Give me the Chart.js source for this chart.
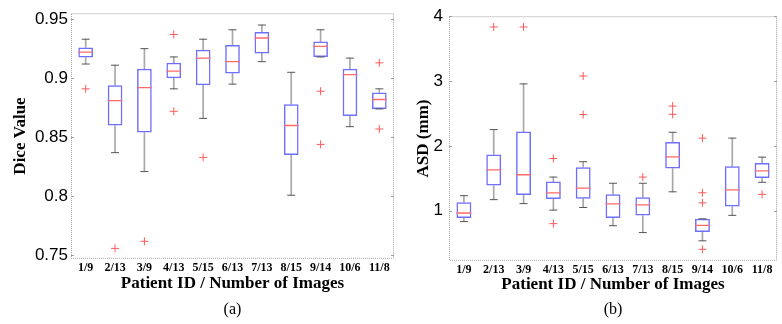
<!DOCTYPE html>
<html>
<head>
<meta charset="utf-8">
<script src="https://cdn.jsdelivr.net/npm/chart.js@4.4.0/dist/chart.umd.min.js"></script>
<style>
  body { margin: 0; background: #fff; }
  #caixaA { position: absolute; left: 0; top: 0; width: 400px; height: 324px; }
  #caixaB { position: absolute; left: 400px; top: 0; width: 382px; height: 324px; }
</style>
</head>
<body>
<div id="caixaA"><canvas id="graficoA" width="400" height="324"></canvas></div>
<div id="caixaB"><canvas id="graficoB" width="382" height="324"></canvas></div>
<script>
const patients = ["1/9", "2/13", "3/9", "4/13", "5/15", "6/13", "7/13", "8/15", "9/14", "10/6", "11/8"];

// (a) Dice
const diceLow  = [0.912, 0.837, 0.821, 0.891, 0.866, 0.895, 0.914, 0.801, 0.918, 0.859, 0.874];
const diceQ1   = [0.9175, 0.860, 0.854, 0.900, 0.894, 0.904, 0.921, 0.835, 0.918, 0.868, 0.874];
const diceMed  = [0.922, 0.881, 0.892, 0.906, 0.917, 0.914, 0.934, 0.860, 0.927, 0.903, 0.882];
const diceQ3   = [0.926, 0.894, 0.908, 0.913, 0.924, 0.928, 0.939, 0.878, 0.931, 0.908, 0.888];
const diceHigh = [0.933, 0.911, 0.925, 0.918, 0.933, 0.941, 0.945, 0.905, 0.941, 0.917, 0.891];
const diceOutliers = [[0.891], [0.756], [0.762], [0.937, 0.872], [0.833], [], [], [], [0.889, 0.844], [], [0.913, 0.857]];
const diceTicks = [0.75, 0.8, 0.85, 0.9, 0.95];

// (b) ASD
const asdLow  = [0.833, 1.171, 1.110, 1.010, 1.050, 0.769, 0.663, 1.292, 0.536, 0.929, 1.439];
const asdQ1   = [0.889, 1.389, 1.242, 1.182, 1.186, 0.889, 0.925, 1.650, 0.672, 1.065, 1.503];
const asdMed  = [0.965, 1.631, 1.555, 1.277, 1.348, 1.106, 1.091, 1.832, 0.773, 1.322, 1.616];
const asdQ3   = [1.132, 1.867, 2.221, 1.449, 1.670, 1.253, 1.208, 2.060, 0.875, 1.685, 1.737];
const asdHigh = [1.232, 2.251, 2.956, 1.519, 1.756, 1.424, 1.424, 2.210, 0.875, 2.120, 1.827];
const asdOutliers = [[], [3.834], [3.834], [1.806, 0.801], [3.077, 2.483], [], [1.519], [2.614, 2.487], [2.12, 1.277, 1.122, 0.405], [], [1.253]];
const asdTicks = [1, 2, 3, 4];

const serif = '"Liberation Serif", "Times New Roman", serif';
const sans = '"Liberation Sans", Arial, sans-serif';

// moldura pontilhada + marcas internas (estilo matlab)
const moldura = {
  id: "moldura",
  beforeDatasetsDraw(chart) {
    const { ctx, chartArea: a, scales } = chart;
    ctx.save();
    ctx.strokeStyle = "#a0a0a0";
    ctx.lineWidth = 1;
    ctx.setLineDash([1, 1]);
    ctx.strokeRect(a.left + 0.5, a.top + 0.5, a.width - 1, a.height - 1);
    ctx.setLineDash([]);
    ctx.beginPath();
    scales.y.ticks.forEach(t => {
      const y = Math.round(scales.y.getPixelForValue(t.value)) + 0.5;
      ctx.moveTo(a.left, y); ctx.lineTo(a.left + 3, y);
      ctx.moveTo(a.right - 3, y); ctx.lineTo(a.right, y);
    });
    ctx.stroke();
    ctx.restore();
  }
};

function boxplot(id, o) {
  const n = patients.length;
  const meiaCaixa = c => c.chart.scales.x.width / n / 4;
  const outs = [];
  o.outliers.forEach((lista, i) => lista.forEach(v => outs.push({ x: patients[i], y: v })));

  return new Chart(document.getElementById(id), {
    type: "bar",
    data: {
      labels: patients,
      datasets: [
        { type: "line", data: outs, showLine: false, pointStyle: "cross", pointRadius: 4,
          pointBorderColor: "#ff5a5a", pointBorderWidth: 1, order: 0 },
        { type: "line", data: o.high, showLine: false, pointStyle: "line", pointRadius: 4,
          pointBorderColor: "#555", pointBorderWidth: 1, order: 1 },
        { type: "line", data: o.low, showLine: false, pointStyle: "line", pointRadius: 4,
          pointBorderColor: "#555", pointBorderWidth: 1, order: 1 },
        { type: "line", data: o.med, showLine: false, pointStyle: "line", pointRadius: meiaCaixa,
          pointBorderColor: "#ff6a6a", pointBorderWidth: 1.3, order: 1 },
        { type: "bar", data: o.q1.map((v, i) => [v, o.q3[i]]), backgroundColor: "rgba(0,0,0,0)",
          borderColor: "#6f6fff", borderWidth: 1.5, borderSkipped: false,
          barPercentage: 0.5, categoryPercentage: 1, grouped: false, order: 2 },
        { type: "bar", data: o.q3.map((v, i) => [v, o.high[i]]), backgroundColor: "#a8a8a8",
          barThickness: 1, grouped: false, order: 3 },
        { type: "bar", data: o.low.map((v, i) => [v, o.q1[i]]), backgroundColor: "#a8a8a8",
          barThickness: 1, grouped: false, order: 3 }
      ]
    },
    options: {
      responsive: false,
      animation: false,
      layout: { padding: { top: o.top, right: o.right, left: 0, bottom: 0 } },
      plugins: {
        legend: { display: false },
        tooltip: { enabled: false },
        title: {
          display: true, position: "bottom", fullSize: false, text: o.tag, color: "#000",
          font: { family: serif, size: 16, weight: "normal" }, padding: { top: 1, bottom: 5 }
        }
      },
      scales: {
        x: {
          type: "category",
          afterFit: s => { s.height = o.xHeight; },
          grid: { display: false, drawTicks: false },
          border: { display: false },
          ticks: { padding: 2, color: "#000", maxRotation: 0, autoSkip: false,
                   font: { family: serif, size: 12, weight: "bold" } },
          title: { display: true, text: "Patient ID / Number of Images", color: "#000",
                   font: { family: serif, size: 17, weight: "bold" }, padding: { top: 0, bottom: o.xTitlePad } }
        },
        y: {
          min: o.min, max: o.max,
          afterBuildTicks: s => { s.ticks = o.ticks.map(v => ({ value: v })); },
          afterFit: s => { s.width = o.yWidth; },
          grid: { display: false, drawTicks: false },
          border: { display: false },
          ticks: { padding: o.yPad, color: "#000", font: { family: sans, size: 17 },
                   callback: v => String(+v.toFixed(2)) },
          title: { display: true, text: o.yTitle, color: "#000",
                   font: { family: serif, size: 17, weight: "bold" }, padding: { top: o.yTitlePad, bottom: 0 } }
        }
      }
    },
    plugins: [moldura]
  });
}

boxplot("graficoA", {
  low: diceLow, q1: diceQ1, med: diceMed, q3: diceQ3, high: diceHigh, outliers: diceOutliers,
  ticks: diceTicks, min: 0.7472, max: 0.955, yTitle: "Dice Value", tag: "(a)",
  top: 10, right: 6, xHeight: 40, yWidth: 71, yPad: 3, yTitlePad: 10, xTitlePad: 5
});

boxplot("graficoB", {
  low: asdLow, q1: asdQ1, med: asdMed, q3: asdQ3, high: asdHigh, outliers: asdOutliers,
  ticks: asdTicks, min: 0.228, max: 4.0, yTitle: "ASD (mm)", tag: "(b)",
  top: 11, right: 2, xHeight: 38, yWidth: 49, yPad: 6, yTitlePad: 13, xTitlePad: 4
});
</script>
</body>
</html>
